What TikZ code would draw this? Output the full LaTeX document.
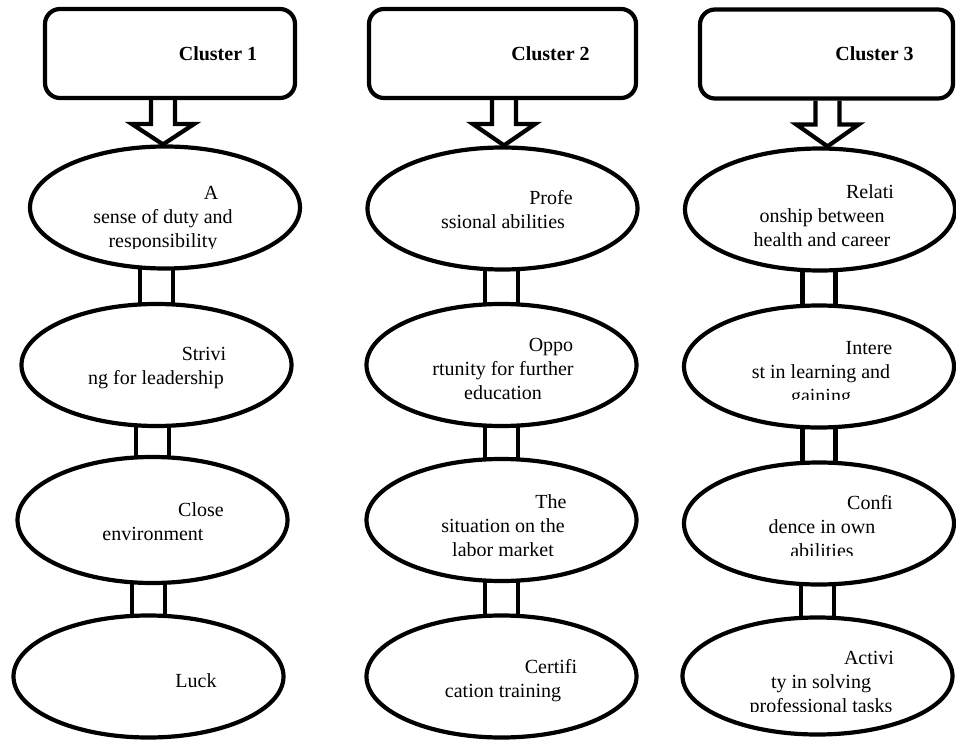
\documentclass[tikz,border=0pt]{standalone}
\usepackage{fontspec}
\setmainfont{Liberation Serif}
\usetikzlibrary{shapes.geometric,backgrounds,calc}

\newcommand{\firstind}{\hspace*{96pt}}

\begin{document}
\begin{tikzpicture}[x=1pt, y=-1pt,
    heavy/.style={line width=4.2pt},
    clusterbox/.style={draw, heavy, rounded corners=15pt, minimum height=89pt, inner sep=0pt, font=\fontsize{20}{24}\selectfont\bfseries},
    oval/.style={draw, heavy, ellipse, fill=white, minimum width=270pt, minimum height=122pt, inner sep=0pt},
    factor/.style={align=center, anchor=base, inner sep=0pt, font=\fontsize{20}{24}\selectfont}]
    \useasboundingbox (0,0) rectangle (956,741);

    % cluster headers
    \node[clusterbox, minimum width=250pt] (b1) at (170,53.5) {\firstind Cluster 1};
    \node[clusterbox, minimum width=267pt] (b2) at (502.5,53.5) {\firstind Cluster 2};
    \node[clusterbox, minimum width=253pt] (b3) at (826.5,54) {\firstind Cluster 3};

    % factor ovals
    \node[oval] (e11) at (165,207.5) {};
    \node[oval] (e12) at (156.5,365) {};
    \node[oval, minimum height=126pt] (e13) at (152.5,520) {};
    \node[oval] (e14) at (148.5,676.5) {};
    \node[oval] (e21) at (502.5,208.5) {};
    \node[oval] (e22) at (501.5,365) {};
    \node[oval] (e23) at (501.5,520) {};
    \node[oval] (e24) at (501.5,676.5) {};
    \node[oval] (e31) at (820,209.5) {};
    \node[oval] (e32) at (819,366.5) {};
    \node[oval] (e33) at (819,523.5) {};
    \node[oval, minimum height=117pt] (e34) at (817.5,676) {};

    % links between ovals
    \begin{scope}[on background layer]
        \foreach \c in {1,2,3} {
            \foreach \r/\s in {1/2,2/3,3/4} {
                \draw[heavy] let \p1=(e\c\r.center), \p2=(e\c\s.center) in (\x2-16.5pt,\y1) rectangle (\x2+16.5pt,\y2);
            }
        }
    \end{scope}

    % block arrows
    \foreach \c/\ax in {1/163,2/504,3/827.5} {
        \draw[heavy, line join=miter] let \p1=(b\c.south), \p2=(e\c1.north) in
            (\ax pt-12pt,\y1) -- (\ax pt-12pt,\y1-24pt) -- (\ax pt-31pt,\y1-24pt) -- (\ax pt,\y2)
            -- (\ax pt+31pt,\y1-24pt) -- (\ax pt+12pt,\y1-24pt) -- (\ax pt+12pt,\y1);
    }

    % factor texts (base = last line), cut off per row
    \begin{scope}
        \clip (0,140) rectangle (956,248);
        \node[factor] (t11) at (163,247) {\firstind A\\sense of duty and\\responsibility};
        \node[factor] (t21) at (503,228) {\firstind Profe\\ssional abilities};
        \node[factor] (t31) at (822,246) {\firstind Relati\\onship between\\health and career};
    \end{scope}
    \begin{scope}
        \clip (0,295) rectangle (956,399);
        \node[factor] (t12) at (156,384) {\firstind Strivi\\ng for leadership};
        \node[factor] (t22) at (503,399) {\firstind Oppo\\rtunity for further\\education};
        \node[factor] (t32) at (821,402) {\firstind Intere\\st in learning and\\gaining};
    \end{scope}
    \begin{scope}
        \clip (0,450) rectangle (956,555);
        \node[factor] (t13) at (153,540) {\firstind Close\\environment};
        \node[factor] (t23) at (503,556) {\firstind The\\situation on the\\labor market};
        \node[factor] (t33) at (822,557) {\firstind Confi\\dence in own\\abilities};
    \end{scope}
    \begin{scope}
        \clip (0,600) rectangle (956,711);
        \node[factor] (t14) at (148,687) {\firstind Luck};
        \node[factor] (t24) at (503,697) {\firstind Certifi\\cation training};
        \node[factor] (t34) at (821,712) {\firstind Activi\\ty in solving\\professional tasks};
    \end{scope}
\end{tikzpicture}
\end{document}
